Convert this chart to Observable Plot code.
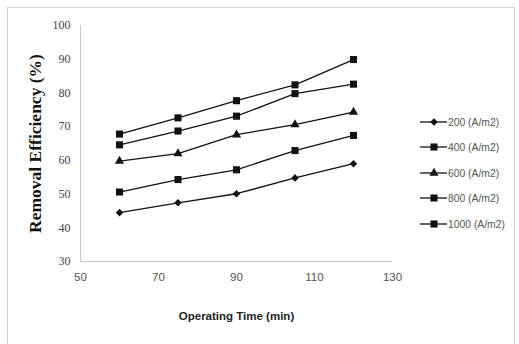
<!DOCTYPE html>
<html><head><meta charset="utf-8">
<script src="https://cdn.jsdelivr.net/npm/d3@7"></script>
<script src="https://cdn.jsdelivr.net/npm/@observablehq/plot@0.6"></script>
<style>
body{margin:0;background:#fff;}
#wrap{position:relative;width:519px;height:344px;overflow:hidden;}
#border{position:absolute;left:7px;top:7px;width:508px;height:340px;border:1px solid #d0d0d0;box-sizing:border-box;pointer-events:none;}
#legend{position:absolute;left:419px;top:109px;font-family:"Liberation Sans",sans-serif;font-size:11px;color:#555;}
#legend .row{height:25.5px;display:flex;align-items:center;}
#legend span{display:inline-block;transform:scaleX(0.94);transform-origin:left center;}
[aria-label="x-axis label"] text{font-weight:bold;font-family:"Liberation Sans",sans-serif;font-size:11.5px;fill:#222;}
[aria-label="y-axis label"] text{font-weight:bold;font-family:"Liberation Serif",serif;font-size:17.5px;fill:#111;}
</style>
</head><body>
<div id="wrap"><div id="border"></div><div id="legend"></div></div>
<script>
const times = [60, 75, 90, 105, 120];
const series = ["200 (A/m2)", "400 (A/m2)", "600 (A/m2)", "800 (A/m2)", "1000 (A/m2)"];
const v200  = [44.5, 47.4, 50.1, 54.8, 59.0];
const v400  = [50.6, 54.3, 57.2, 62.9, 67.4];
const v600  = [59.8, 62.0, 67.6, 70.6, 74.3];
const v800  = [64.6, 68.7, 73.1, 79.8, 82.6];
const v1000 = [67.8, 72.6, 77.7, 82.4, 89.9];
const xTicks = [50, 70, 90, 110, 130];
const yTicks = [30, 40, 50, 60, 70, 80, 90, 100];

const allVals = [v200, v400, v600, v800, v1000];
const symbols = ["diamond2", "square", "triangle", "square", "square"];
const sizes = [3.4, 4.0, 3.4, 4.0, 4.0];
const data = [];
series.forEach((s, i) => times.forEach((t, j) => data.push({series: s, t, v: allVals[i][j], sym: symbols[i], r: sizes[i]})));

const chart = Plot.plot({
  width: 519, height: 344,
  marginLeft: 80, marginRight: 127, marginTop: 25, marginBottom: 83,
  style: {background: "transparent"},
  x: {domain: [50, 130]},
  y: {domain: [30, 100]},
  r: {type: "identity"},
  symbol: {type: "identity"},
  marks: [
    Plot.ruleX([50], {stroke: "#c8c8c8", strokeWidth: 1}),
    Plot.ruleY([30], {stroke: "#c8c8c8", strokeWidth: 1}),
    Plot.axisY({ticks: yTicks, tickSize: 0, tickPadding: 10, label: "Removal Efficiency (%)", labelAnchor: "center", labelArrow: "none", labelOffset: 52,
      fontFamily: "Liberation Serif, serif", fontSize: 12, fill: "#444"}),
    Plot.axisX({ticks: xTicks, tickSize: 0, tickPadding: 11, label: "Operating Time (min)", labelAnchor: "center", labelArrow: "none", labelOffset: 58,
      fontFamily: "Liberation Sans, sans-serif", fontSize: 11.5, fill: "#555"}),
    Plot.line(data, {x: "t", y: "v", z: "series", stroke: "#111", strokeWidth: 1.3}),
    Plot.dot(data, {x: "t", y: "v", symbol: "sym", r: "r", fill: "#111", stroke: "none"})
  ]
});
document.getElementById("wrap").appendChild(chart);
chart.style.position = "absolute"; chart.style.left = "0"; chart.style.top = "0";

const legend = document.getElementById("legend");
series.forEach((s, i) => {
  const row = document.createElement("div");
  row.className = "row";
  const symType = {diamond2: d3.symbolDiamond2, square: d3.symbolSquare, triangle: d3.symbolTriangle}[symbols[i]];
  const size = Math.PI * sizes[i] * sizes[i];
  const path = d3.symbol(symType, size)();
  row.innerHTML = `<svg width="29" height="12"><line x1="1" x2="28" y1="6" y2="6" stroke="#111" stroke-width="1.3"/><path d="${path}" transform="translate(15,6)" fill="#111"/></svg><span>${s}</span>`;
  legend.appendChild(row);
});
</script>
</body></html>
